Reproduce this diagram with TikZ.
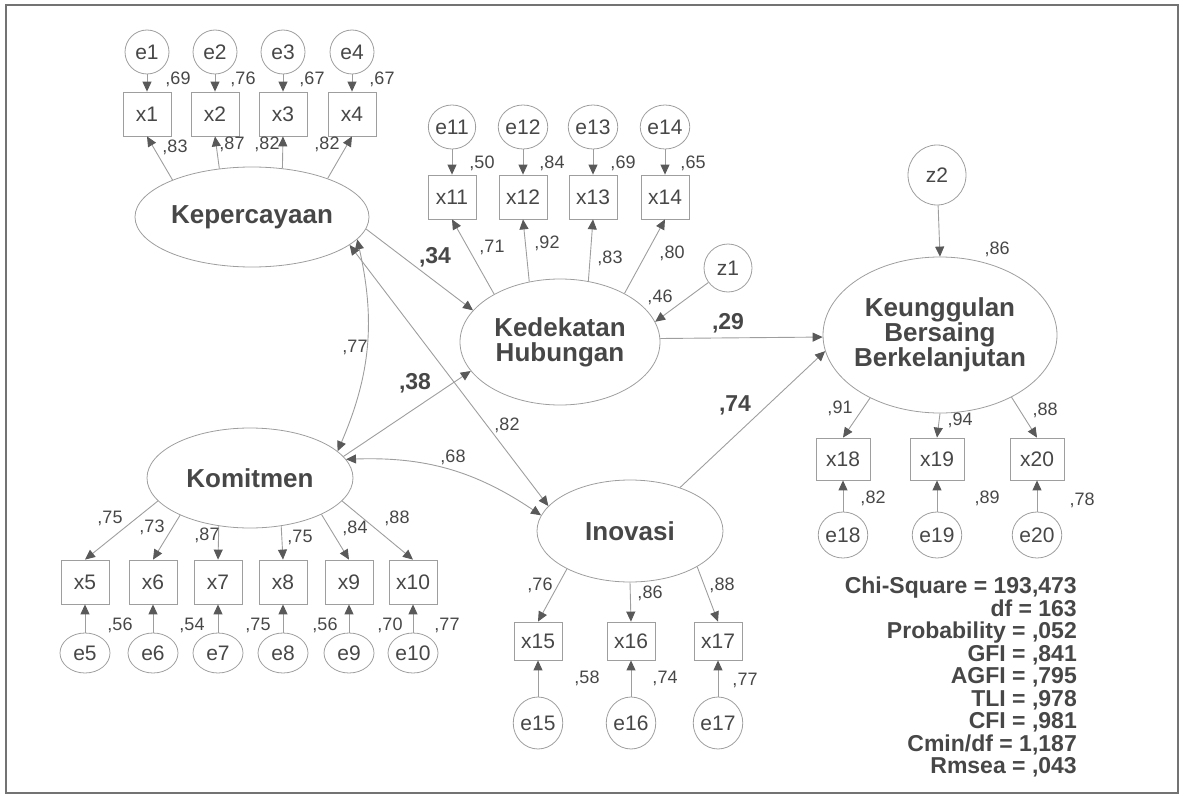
\documentclass[tikz,border=0pt]{standalone}
\usepackage{fontspec}
\setmainfont{Liberation Sans}
\usetikzlibrary{shapes.geometric,arrows.meta}
\definecolor{amostext}{gray}{0.28}
\definecolor{amosline}{gray}{0.62}
\definecolor{amoshead}{gray}{0.35}
\definecolor{amosframe}{gray}{0.45}

\begin{document}
\begin{tikzpicture}[x=1pt, y=-1pt,
    latent/.style={ellipse, draw=amosline, line width=0.8pt, inner sep=0pt, align=center,
                   text=amostext, font=\fontsize{26}{25}\selectfont\bfseries},
    obs/.style={rectangle, draw=amosline, line width=0.8pt, minimum width=48pt, minimum height=44pt,
                inner sep=0pt, text=amostext, font=\fontsize{21}{24}\selectfont},
    err/.style={ellipse, draw=amosline, line width=0.8pt, minimum width=44pt, minimum height=44pt,
                inner sep=0pt, text=amostext, font=\fontsize{21}{24}\selectfont},
    coef/.style={inner sep=0pt, text=amostext, font=\fontsize{18}{20}\selectfont},
    bcoef/.style={inner sep=0pt, text=amostext, font=\fontsize{23}{25}\selectfont\bfseries},
    arr/.style={draw=amosline, line width=0.9pt, -{Triangle[length=10pt, width=9pt, color=amoshead]}},
    dbl/.style={draw=amosline, line width=0.9pt,
                {Triangle[length=10pt, width=9pt, color=amoshead]}-{Triangle[length=10pt, width=9pt, color=amoshead]}}
]
    \useasboundingbox (0,0) rectangle (1186,797);
    \draw[amosframe, line width=2pt] (6,5) rectangle (1178,793);

    % latent variables
    \node[latent, minimum width=234pt, minimum height=100pt] (kep) at (252,217) {Kepercayaan};
    \node[latent, minimum width=200pt, minimum height=126pt] (ked) at (560,342) {Kedekatan\\Hubungan};
    \node[latent, minimum width=206pt, minimum height=100pt] (kom) at (250,478) {Komitmen};
    \node[latent, minimum width=186pt, minimum height=102pt] (ino) at (630,531) {Inovasi};
    \node[latent, minimum width=234pt, minimum height=156pt, inner xsep=-6pt] (keu) at (940,335)
        {Keunggulan\\Bersaing\\Berkelanjutan};
    \node[err, minimum width=48pt, minimum height=48pt] (z1) at (728,268) {z1};
    \node[err, minimum width=58pt, minimum height=60pt] (z2) at (937,175) {z2};

    % indicators with their errors
    \foreach \i/\xx/\a in {1/147/155, 2/215/124, 3/283/58, 4/352/27}{
        \node[obs] (x\i) at (\xx,114) {x\i};
        \node[err] (e\i) at (\xx,52) {e\i};
        \draw[arr] (e\i) -- (x\i);
        \draw[arr] (kep.\a) -- (x\i.south);
    }
    \foreach \i/\xx/\a in {11/452/144, 12/523/117, 13/593/65, 14/665/37}{
        \node[obs] (x\i) at (\xx,197) {x\i};
        \node[err] (e\i) at (\xx,127) {e\i};
        \draw[arr] (e\i) -- (x\i);
        \draw[arr] (ked.\a) -- (x\i.south);
    }
    \foreach \i/\xx/\a in {5/85/194, 6/153/208, 7/218/237, 8/283/303, 9/349/333, 10/413/346}{
        \node[obs] (x\i) at (\xx,582) {x\i};
        \node[err, minimum width=50pt, minimum height=40pt] (e\i) at (\xx,653) {e\i};
        \draw[arr] (e\i) -- (x\i);
        \draw[arr] (kom.\a) -- (x\i.north);
    }
    \foreach \i/\xx/\a in {15/538/211, 16/631/270, 17/718/332}{
        \node[obs, minimum height=38pt] (x\i) at (\xx,641) {x\i};
        \node[err, minimum height=52pt] (e\i) at (\xx,723) {e\i};
        \draw[arr] (e\i) -- (x\i);
        \draw[arr] (ino.\a) -- (x\i.north);
    }
    \foreach \i/\xx/\a in {18/843/222, 19/937/270, 20/1037/319}{
        \node[obs, minimum width=54pt, minimum height=42pt] (x\i) at (\xx,459) {x\i};
        \node[err, minimum width=46pt, minimum height=46pt] (e\i) at (\xx,535) {e\i};
        \draw[arr] (e\i) -- (x\i);
        \draw[arr] (keu.\a) -- (x\i.north);
    }

    % structural paths
    \draw[arr] (kep.-6) -- (ked.160);
    \draw[arr] (kom.13) -- (ked.198);
    \draw[dbl] (kep.-12) to[bend left=18] (kom.17);
    \draw[dbl] (kep.-16) -- (ino.163);
    \draw[dbl] (kom.11) to[bend left=18] (ino.170);
    \draw[arr] (ked.2) -- (keu.181);
    \draw[arr] (ino.41) -- (keu.188);
    \draw[arr] (z1) -- (ked.12);
    \draw[arr] (z2) -- (keu.north);

    % estimates
    \foreach \n/\xx/\yy/\t in {
        c1/178/79/{,69}, c2/243/79/{,76}, c3/312/79/{,67}, c4/382/79/{,67},
        c5/175/147/{,83}, c6/232/144/{,87}, c7/267/144/{,82}, c8/327/144/{,82},
        c9/482/163/{,50}, c10/552/163/{,84}, c11/623/163/{,69}, c12/693/163/{,65},
        c13/492/247/{,71}, c14/547/243/{,92}, c15/610/258/{,83}, c16/672/253/{,80},
        c17/660/297/{,46}, c18/355/347/{,77}, c19/507/425/{,82}, c20/453/457/{,68},
        c21/997/249/{,86},
        c22/110/518/{,75}, c23/152/527/{,73}, c24/207/535/{,87}, c25/300/537/{,75},
        c26/355/528/{,84}, c27/397/518/{,88},
        c28/120/625/{,56}, c29/192/625/{,54}, c30/258/625/{,75}, c31/325/625/{,56},
        c32/390/625/{,70}, c33/447/625/{,77},
        c34/540/585/{,76}, c35/650/593/{,86}, c36/722/585/{,88},
        c37/587/678/{,58}, c38/665/678/{,74}, c39/745/680/{,77},
        c40/840/408/{,91}, c41/960/420/{,94}, c42/1045/410/{,88},
        c43/873/498/{,82}, c44/987/498/{,89}, c45/1082/500/{,78}}{
        \node[coef] (\n) at (\xx,\yy) {\t};
    }
    \node[bcoef] (b34) at (435,257) {,34};
    \node[bcoef] (b38) at (415,383) {,38};
    \node[bcoef] (b29) at (728,323) {,29};
    \node[bcoef] (b74) at (735,405) {,74};

    % fit indices
    \node[anchor=north east, align=right, inner sep=0pt, text=amostext,
          font=\fontsize{23}{22.5}\selectfont\bfseries] (stats) at (1077,577)
        {Chi-Square = 193,473\\df = 163\\Probability = ,052\\GFI = ,841\\AGFI = ,795\\
         TLI = ,978\\CFI = ,981\\Cmin/df = 1,187\\Rmsea = ,043};
\end{tikzpicture}
\end{document}
